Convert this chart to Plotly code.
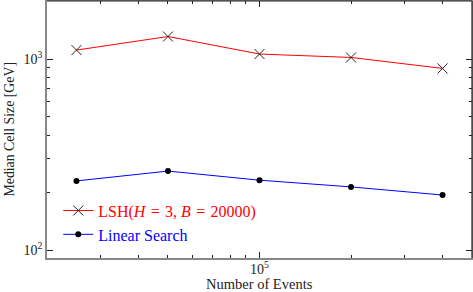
import plotly.graph_objects as go
import numpy as np

events = [25000, 50000, 100000, 200000, 400000]
lsh_median = [1114, 1312, 1062, 1019, 893]
linear_median = [230, 259, 232, 214, 194]

SP = "\u2004"
lsh_name = ("<span style='color:#ff0000'>LSH(<i>H</i>" + SP + "=" + SP + "3, <i>B</i>"
            + SP + "=" + SP + "20000)</span>")
lin_name = "<span style='color:#0000ff'>Linear Search</span>"

y_major = [100, 1000]
y_major_text = ["10<sup>2</sup>", "10<sup>3</sup>"]
y_minor = [200, 300, 400, 500, 600, 700, 800, 900, 2000]
x_major = [100000]
x_major_text = ["10<sup>5</sup>"]
x_minor = [30000, 40000, 50000, 60000, 70000, 80000, 90000, 200000, 300000, 400000]

FONT = "Liberation Serif"
TXT = "#222222"

fig = go.Figure()
fig.add_trace(go.Scatter(
    x=events, y=lsh_median, name=lsh_name, mode="lines+markers",
    line=dict(color="#ff0000", width=1),
    marker=dict(symbol="x-thin", size=10, color="#222222",
                line=dict(color="#222222", width=1)),
))
fig.add_trace(go.Scatter(
    x=events, y=linear_median, name=lin_name, mode="lines+markers",
    line=dict(color="#0000ff", width=1),
    marker=dict(symbol="circle", size=6, color="#000000"),
))

axis_common = dict(
    type="log", showgrid=False, zeroline=False, automargin=False,
    showline=True, linecolor="#888888", linewidth=1.5,
    mirror="allticks", ticks="inside", ticklen=6, tickwidth=1, tickcolor=TXT,
    tickfont=dict(family=FONT, size=14, color=TXT),
)

fig.update_xaxes(
    **axis_common,
    range=[np.log10(20000), np.log10(500000)],
    tickmode="array", tickvals=x_major, ticktext=x_major_text,
    ticklabelstandoff=-3,
    minor=dict(tickmode="array", tickvals=x_minor, ticks="inside", ticklen=3.5,
               tickcolor=TXT, showgrid=False),
)
fig.update_yaxes(
    **axis_common,
    range=[np.log10(90.8), np.log10(2013)],
    tickmode="array", tickvals=y_major, ticktext=y_major_text,
    minor=dict(tickmode="array", tickvals=y_minor, ticks="inside", ticklen=3.5,
               tickcolor=TXT, showgrid=False),
)

fig.update_layout(
    width=473, height=292,
    margin=dict(l=47, r=1, t=1, b=34),
    paper_bgcolor="white", plot_bgcolor="white",
    showlegend=True,
    legend=dict(x=0.0265, y=0.2505, xanchor="left", yanchor="top",
                bgcolor="rgba(0,0,0,0)", font=dict(family=FONT, size=16),
                tracegroupgap=0, itemwidth=30),
    annotations=[
        dict(text="Number of Events", xref="paper", yref="paper",
             x=0.501, y=-0.103, xanchor="center", yanchor="middle", showarrow=False,
             font=dict(family=FONT, size=14.5, color=TXT)),
        dict(text="Median Cell Size [GeV]", xref="paper", yref="paper",
             x=-0.0894, y=0.5, xanchor="center", yanchor="middle", showarrow=False,
             textangle=-90, font=dict(family=FONT, size=13.8, color=TXT)),
    ],
    shapes=[
        dict(type="line", xref="paper", yref="paper", x0=0, x1=1, y0=1, y1=1,
             line=dict(color="#222222", width=1.2)),
        dict(type="line", xref="paper", yref="paper", x0=1, x1=1, y0=0, y1=1,
             line=dict(color="#222222", width=1.2)),
    ],
)

fig.write_html("out.html", config={"displayModeBar": False},
               post_script="document.body.style.margin='0';document.body.style.overflow='hidden';")
